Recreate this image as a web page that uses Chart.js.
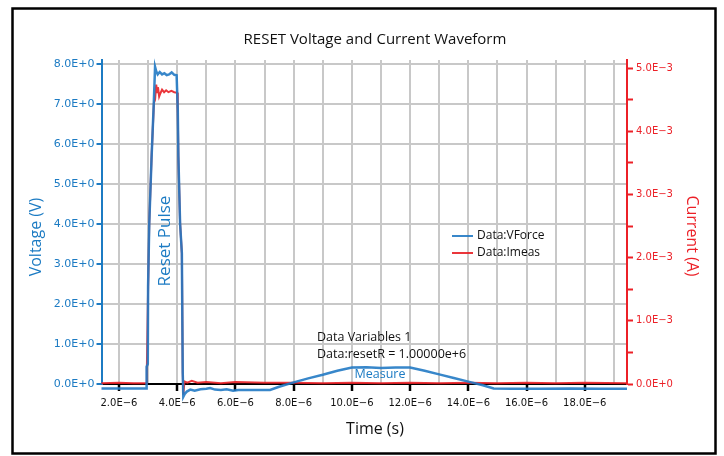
<!DOCTYPE html>
<html>
<head>
<meta charset="utf-8">
<script src="https://cdn.jsdelivr.net/npm/chart.js@4.4.1/dist/chart.umd.min.js"></script>
<style>
  html, body { margin: 0; padding: 0; background: #ffffff; }
  #wrap { position: relative; width: 724px; height: 456px; }
</style>
</head>
<body>
<div id="wrap"><canvas id="waveChart" width="724" height="456"></canvas></div>
<script>
// time in microseconds, voltage in V
const vforceTime = [
  1.40, 2.00, 2.50, 2.94, 2.95, 2.99, 3.00, 3.04, 3.12, 3.20, 3.24, 3.28, 3.33, 3.40,
  3.48, 3.56, 3.64, 3.72, 3.81, 3.90, 3.98, 4.02, 4.04, 4.10, 4.16, 4.19, 4.21, 4.26,
  4.33, 4.45, 4.60, 4.80, 5.00, 5.13, 5.30, 5.50, 5.70, 5.92, 6.10, 6.40, 6.80, 7.19,
  7.50, 8.00, 8.50, 9.00, 9.50, 10.00, 10.50, 11.00, 11.50, 12.00, 12.50, 13.00,
  13.50, 14.00, 14.50, 14.87, 15.50, 16.50, 17.50, 18.50, 19.45
];
const vforceValues = [
  -0.11, -0.11, -0.11, -0.11, 0.43, 0.50, 2.43, 4.00, 5.67, 7.10, 7.93, 7.82, 7.74, 7.80,
  7.74, 7.77, 7.72, 7.74, 7.79, 7.73, 7.72, 6.85, 5.70, 4.00, 3.27, 0.28, -0.32, -0.25,
  -0.19, -0.14, -0.17, -0.13, -0.12, -0.10, -0.14, -0.15, -0.13, -0.17, -0.15, -0.15, -0.15, -0.15,
  -0.07, 0.04, 0.14, 0.23, 0.33, 0.41, 0.42, 0.40, 0.41, 0.41, 0.33, 0.24,
  0.15, 0.06, -0.03, -0.11, -0.12, -0.12, -0.11, -0.12, -0.12
];

// time in microseconds, current in A
const imeasTime = [
  1.40, 2.00, 2.50, 2.94, 2.96, 3.00, 3.04, 3.12, 3.20, 3.24, 3.28, 3.31, 3.34, 3.38,
  3.42, 3.48, 3.55, 3.62, 3.70, 3.80, 3.90, 4.00, 4.02, 4.04, 4.10, 4.16, 4.19, 4.21,
  4.25, 4.35, 4.50, 4.70, 5.00, 5.50, 6.00, 7.00, 8.00, 9.00, 10.00, 11.00, 12.00,
  13.00, 14.00, 15.00, 16.00, 17.00, 18.00, 19.45
];
const imeasValues = [
  0.01e-3, 0.02e-3, 0.01e-3, 0.01e-3, 0.30e-3, 1.50e-3, 2.54e-3, 3.60e-3, 4.45e-3, 4.50e-3, 4.74e-3, 4.62e-3, 4.70e-3, 4.55e-3,
  4.60e-3, 4.66e-3, 4.62e-3, 4.65e-3, 4.62e-3, 4.64e-3, 4.62e-3, 4.61e-3, 4.30e-3, 3.60e-3, 2.54e-3, 2.07e-3, 0.20e-3, -0.17e-3,
  0.04e-3, 0.02e-3, 0.05e-3, 0.02e-3, 0.03e-3, 0.01e-3, 0.03e-3, 0.02e-3, 0.02e-3, 0.01e-3, 0.02e-3, 0.01e-3, 0.02e-3,
  0.01e-3, 0.02e-3, 0.01e-3, 0.02e-3, 0.01e-3, 0.02e-3, 0.01e-3
];

const BLUE = '#1c7bc3';
const BLUE_LINE = 'rgba(34,122,196,0.9)';
const RED = '#ec2027';
const RED_LINE = 'rgba(232,32,38,0.9)';
const GRID = '#c8c8c8';
const TEXT_FONT = '"Open Sans", "Noto Sans", sans-serif';
const TICK_FONT = '"DejaVu Sans", sans-serif';
const MINUS = '\u2212';

function toPoints(xs, ys) {
  return xs.map((x, i) => ({ x, y: ys[i] }));
}

function formatTime(value) {
  return `${value.toFixed(1)}E${MINUS}6`;
}

function formatCurrent(value) {
  const milli = Math.round(value * 2000) / 2;
  if (milli % 1 !== 0) return '';
  if (milli === 0) return '0.0E+0';
  return `${milli.toFixed(1)}E${MINUS}3`;
}

function drawText(ctx, text, x, y, font, color, rotation) {
  ctx.save();
  ctx.translate(x, y);
  if (rotation) ctx.rotate(rotation);
  ctx.font = font;
  ctx.fillStyle = color;
  ctx.textAlign = 'center';
  ctx.textBaseline = 'middle';
  ctx.fillText(text, 0, 0);
  ctx.restore();
}

// titles, legend, notes and frame
const decorPlugin = {
  id: 'decor',
  afterDraw(chart) {
    const ctx = chart.ctx;

    drawText(ctx, 'RESET Voltage and Current Waveform', 375, 40, `500 15px ${TEXT_FONT}`, '#111', 0);
    drawText(ctx, 'Voltage (V)', 36, 237, `16px ${TEXT_FONT}`, BLUE, -Math.PI / 2);
    drawText(ctx, 'Current (A)', 692, 236, `16px ${TEXT_FONT}`, RED, Math.PI / 2);
    drawText(ctx, 'Time (s)', 375, 429, `16px ${TEXT_FONT}`, '#111', 0);
    drawText(ctx, 'Reset Pulse', 165, 241, `17px ${TEXT_FONT}`, BLUE, -Math.PI / 2);
    drawText(ctx, 'Measure', 380, 374, `12.5px ${TEXT_FONT}`, BLUE, 0);

    ctx.save();
    ctx.font = `12.5px ${TEXT_FONT}`;
    ctx.fillStyle = '#111';
    ctx.textAlign = 'left';
    ctx.textBaseline = 'middle';
    ctx.fillText('Data Variables 1', 317, 337);
    ctx.fillText('Data:resetR = 1.00000e+6', 317, 354);

    // legend
    ctx.font = `12px ${TEXT_FONT}`;
    const items = [
      { label: 'Data:VForce', color: BLUE_LINE, y: 236 },
      { label: 'Data:Imeas', color: RED_LINE, y: 253 },
    ];
    items.forEach((item) => {
      ctx.strokeStyle = item.color;
      ctx.lineWidth = 2;
      ctx.beginPath();
      ctx.moveTo(452, item.y);
      ctx.lineTo(473, item.y);
      ctx.stroke();
      ctx.fillStyle = '#111';
      ctx.fillText(item.label, 477, item.y);
    });

    ctx.strokeStyle = '#000';
    ctx.lineWidth = 2.5;
    ctx.strokeRect(12.5, 8.5, 703, 445);
    ctx.restore();
  },
};

const ctx = document.getElementById('waveChart').getContext('2d');

new Chart(ctx, {
  type: 'line',
  data: {
    datasets: [
      {
        label: 'Data:VForce',
        data: toPoints(vforceTime, vforceValues),
        yAxisID: 'y',
        borderColor: BLUE_LINE,
        borderWidth: 2.5,
        pointRadius: 0,
        tension: 0,
        clip: false,
      },
      {
        label: 'Data:Imeas',
        data: toPoints(imeasTime, imeasValues),
        yAxisID: 'y1',
        borderColor: RED_LINE,
        borderWidth: 2,
        pointRadius: 0,
        tension: 0,
        clip: false,
      },
    ],
  },
  options: {
    responsive: false,
    animation: false,
    layout: {
      padding: { top: 60, bottom: 32, left: 0, right: 0 },
    },
    plugins: {
      legend: { display: false },
      tooltip: { enabled: false },
      title: { display: false },
    },
    scales: {
      x: {
        type: 'linear',
        min: 1.4,
        max: 19.45,
        afterFit(scale) { scale.height = 40; },
        ticks: {
          stepSize: 1,
          includeBounds: false,
          autoSkip: false,
          maxRotation: 0,
          padding: 6,
          color: '#111',
          font: { family: TICK_FONT, size: 10 },
          callback(value) { return value % 2 === 0 ? formatTime(value) : ''; },
        },
        grid: {
          color: GRID,
          lineWidth: 2,
          tickLength: 7,
          tickWidth: 2.5,
          tickColor: (c) => (c.tick && c.tick.value % 2 === 0 ? '#000' : 'rgba(0,0,0,0)'),
        },
        border: { color: '#000', width: 2 },
      },
      y: {
        position: 'left',
        min: 0,
        max: 8.1,
        afterFit(scale) { scale.width = 101.5; },
        ticks: {
          stepSize: 1,
          includeBounds: false,
          padding: 2,
          color: BLUE,
          font: { family: TICK_FONT, size: 11 },
          callback(value) { return `${value.toFixed(1)}E+0`; },
        },
        grid: {
          color: GRID,
          lineWidth: 2,
          tickLength: 5,
          tickColor: BLUE,
          tickWidth: 2,
        },
        border: { color: BLUE, width: 2 },
      },
      y1: {
        position: 'right',
        min: 0,
        max: 5.13e-3,
        afterFit(scale) { scale.width = 97; },
        ticks: {
          stepSize: 0.5e-3,
          includeBounds: false,
          padding: 3,
          color: RED,
          font: { family: TICK_FONT, size: 10 },
          callback(value) { return formatCurrent(value); },
        },
        grid: {
          drawOnChartArea: false,
          tickLength: 6,
          tickColor: RED,
          tickWidth: 2,
        },
        border: { color: RED, width: 2 },
      },
    },
  },
  plugins: [decorPlugin],
});
</script>
</body>
</html>
